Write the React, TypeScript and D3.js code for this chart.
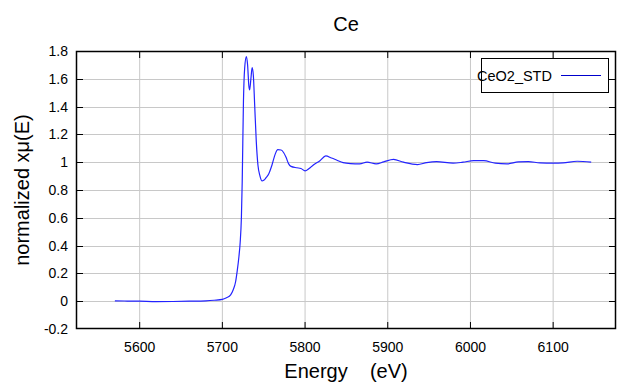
import { useRef, useEffect } from "react";
import * as d3 from "d3";

const energy = [
  5570, 5585, 5600, 5620, 5640, 5660, 5680, 5690, 5700, 5705, 5710, 5713, 5716, 5718, 5720,
  5721.5, 5723, 5724, 5725.5, 5727, 5729, 5730.5, 5732, 5733, 5734.5, 5736, 5737.5, 5739,
  5741, 5743, 5745.5, 5748, 5750, 5753, 5756, 5760, 5764, 5767, 5771, 5774, 5777, 5780,
  5783, 5790, 5795, 5800, 5805, 5810, 5818, 5825, 5832, 5838, 5846, 5855, 5866, 5875, 5886,
  5895, 5907, 5919, 5936, 5947, 5959, 5979, 5991, 6004, 6016, 6030, 6044, 6058, 6070, 6084,
  6100, 6112, 6129, 6146,
];
const mu = [
  0.003, 0.001, 0.0, -0.003, -0.002, 0.0, 0.003, 0.007, 0.013, 0.025, 0.045, 0.08, 0.14, 0.22,
  0.32, 0.42, 0.6, 0.86, 1.44, 1.68, 1.76, 1.7, 1.55, 1.52, 1.6, 1.68, 1.62, 1.42, 1.15, 0.98,
  0.9, 0.865, 0.87, 0.89, 0.915, 0.98, 1.06, 1.09, 1.088, 1.07, 1.035, 0.99, 0.97, 0.96,
  0.955, 0.937, 0.955, 0.98, 1.01, 1.045, 1.03, 1.016, 0.997, 0.99, 0.988, 1.0, 0.988, 1.002,
  1.02, 1.0, 0.983, 0.997, 1.004, 0.993, 1.0, 1.011, 1.011, 0.993, 0.988, 1.002, 1.004, 0.995,
  0.993, 0.995, 1.007, 1.0,
];
const xTicks = [5600, 5700, 5800, 5900, 6000, 6100];
const yTicks = [-0.2, 0, 0.2, 0.4, 0.6, 0.8, 1, 1.2, 1.4, 1.6, 1.8];
const seriesName = "CeO2_STD";

export default function App() {
  const gRef = useRef(null);

  useEffect(() => {
    const left = 76, right = 616, top = 51, bottom = 329;
    const x = d3.scaleLinear().domain([5523, 6176]).range([left, right]);
    const y = d3.scaleLinear().domain([-0.2, 1.8]).range([bottom, top]);
    const font = "'Liberation Sans', Arial, sans-serif";

    const g = d3.select(gRef.current);
    g.selectAll("*").remove();

    // grid
    g.selectAll(".vg").data(xTicks).enter().append("line")
      .attr("x1", (d) => x(d)).attr("x2", (d) => x(d))
      .attr("y1", top).attr("y2", bottom)
      .attr("stroke", "#c8c8c8").attr("stroke-width", 1);
    g.selectAll(".hg").data(yTicks.slice(1, -1)).enter().append("line")
      .attr("x1", left).attr("x2", right)
      .attr("y1", (d) => Math.round(y(d)) + 0.5).attr("y2", (d) => Math.round(y(d)) + 0.5)
      .attr("stroke", "#c8c8c8").attr("stroke-width", 1);

    // inner ticks on all four sides
    const tl = 7;
    xTicks.forEach((t) => {
      g.append("line").attr("x1", x(t)).attr("x2", x(t)).attr("y1", top).attr("y2", top + tl).attr("stroke", "#000");
      g.append("line").attr("x1", x(t)).attr("x2", x(t)).attr("y1", bottom).attr("y2", bottom - tl).attr("stroke", "#000");
    });
    yTicks.slice(1, -1).forEach((t) => {
      const yy = Math.round(y(t)) + 0.5;
      g.append("line").attr("x1", left).attr("x2", left + tl).attr("y1", yy).attr("y2", yy).attr("stroke", "#000");
      g.append("line").attr("x1", right).attr("x2", right - tl).attr("y1", yy).attr("y2", yy).attr("stroke", "#000");
    });

    // data line
    const pts: [number, number][] = energy.map((e, i) => [e, mu[i]]);
    const line = d3.line<[number, number]>()
      .x((d) => x(d[0])).y((d) => y(d[1]))
      .curve(d3.curveMonotoneX);
    g.append("path").attr("d", line(pts)).attr("fill", "none")
      .attr("stroke", "#2323ff").attr("stroke-width", 1.2);

    // frame
    g.append("rect").attr("x", left + 0.5).attr("y", top + 0.5)
      .attr("width", right - left - 1).attr("height", bottom - top - 1)
      .attr("fill", "none").attr("stroke", "#000").attr("stroke-width", 1.5);

    // tick labels
    g.selectAll(".xl").data(xTicks).enter().append("text")
      .attr("x", (d) => x(d)).attr("y", 352)
      .attr("text-anchor", "middle").attr("font-family", font).attr("font-size", 14)
      .text((d) => String(d));
    g.selectAll(".yl").data(yTicks).enter().append("text")
      .attr("x", 68).attr("y", (d) => y(d) + 5)
      .attr("text-anchor", "end").attr("font-family", font).attr("font-size", 14)
      .text((d) => String(d));

    // titles
    g.append("text").attr("x", 346).attr("y", 30.5).attr("text-anchor", "middle")
      .attr("font-family", font).attr("font-size", 20).text("Ce");
    g.append("text").attr("x", 346).attr("y", 378).attr("text-anchor", "middle")
      .attr("font-family", font).attr("font-size", 20).attr("xml:space", "preserve")
      .style("white-space", "pre").text("Energy    (eV)");
    g.append("text").attr("transform", `translate(29,${(top + bottom) / 2}) rotate(-90)`)
      .attr("text-anchor", "middle").attr("font-family", font).attr("font-size", 20)
      .text("normalized xμ(E)");

    // legend
    g.append("rect").attr("x", 481.5).attr("y", 58.5).attr("width", 127).attr("height", 34)
      .attr("fill", "#fff").attr("stroke", "#000").attr("stroke-width", 1);
    g.append("text").attr("x", 477).attr("y", 80.5).attr("font-family", font).attr("font-size", 14.5)
      .text(seriesName);
    g.append("line").attr("x1", 561).attr("x2", 601).attr("y1", 75.5).attr("y2", 75.5)
      .attr("stroke", "#0000cc").attr("stroke-width", 1.2);
  }, []);

  return (
    <svg width={640} height={387} style={{ position: "absolute", left: 0, top: 0, background: "#fff" }}>
      <g ref={gRef}></g>
    </svg>
  );
}
